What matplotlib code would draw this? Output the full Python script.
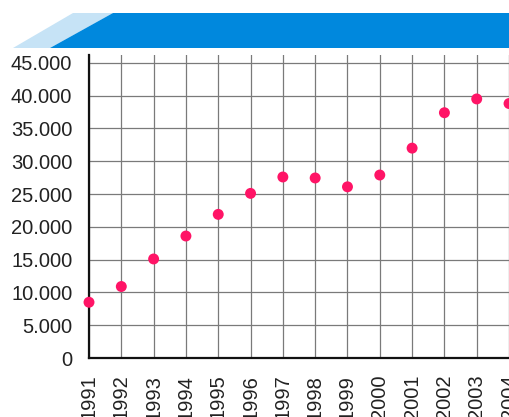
import matplotlib
matplotlib.use("Agg")
import matplotlib.pyplot as plt
from matplotlib.patches import Polygon
from matplotlib.ticker import FuncFormatter

years = [1991, 1992, 1993, 1994, 1995, 1996, 1997, 1998, 1999, 2000, 2001, 2002, 2003, 2004]
values = [8500, 10900, 15100, 18600, 21900, 25100, 27600, 27450, 26100, 27900, 32000, 37400, 39500, 38800]
y_ticks = [0, 5000, 10000, 15000, 20000, 25000, 30000, 35000, 40000, 45000]

W, H = 510, 417
fig = plt.figure(figsize=(W / 100, H / 100), dpi=100)
plt.rcParams['font.family'] = ['Liberation Sans', 'DejaVu Sans']

def px(x, y):
    return (x / W, 1 - y / H)

# header banner
light = Polygon([px(13, 48), px(73, 13), px(113, 13), px(50, 48)], closed=True,
                transform=fig.transFigure, facecolor='#c6e3f6', edgecolor='none')
dark = Polygon([px(50, 48), px(113, 13), px(509, 13), px(509, 48)], closed=True,
               transform=fig.transFigure, facecolor='#0088dd', edgecolor='none')
fig.patches.extend([light, dark])

left, right, top, bottom = 89, 510, 55, 358
ax = fig.add_axes([left / W, 1 - bottom / H, (right - left) / W, (bottom - top) / H])
ax.set_xlim(1991, 2004.03)
ax.set_ylim(0, 46200)

ax.scatter(years, values, s=62, color='#ff1466', zorder=5, clip_on=False, edgecolors='none')

ax.set_xticks(years)
ax.set_xticklabels([str(y) for y in years], rotation=90, fontsize=14.5)
ax.set_yticks(y_ticks)
ax.yaxis.set_major_formatter(FuncFormatter(lambda v, p: f"{int(v):,}".replace(',', '.')))
ax.tick_params(axis='y', labelsize=14.5, length=0, pad=12)
ax.tick_params(axis='x', length=0, pad=12)
for lab in ax.get_yticklabels() + ax.get_xticklabels():
    lab.set_color('#222222')

ax.grid(True, color='#7a7a7a', linewidth=0.9)
ax.set_axisbelow(True)
for s in ['top', 'right']:
    ax.spines[s].set_visible(False)
ax.spines['left'].set_linewidth(1.6)
ax.spines['bottom'].set_linewidth(1.6)
ax.spines['left'].set_color('#111111')
ax.spines['bottom'].set_color('#111111')

fig.savefig('out.png', dpi=100)
